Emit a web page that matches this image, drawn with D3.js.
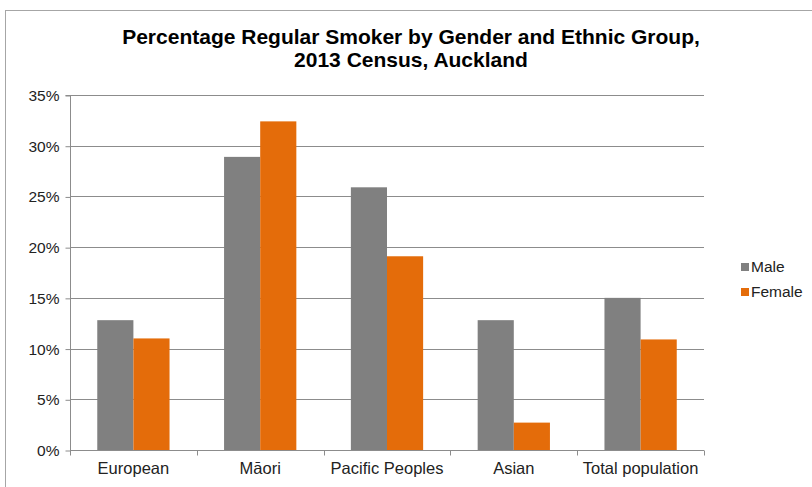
<!DOCTYPE html>
<html>
<head>
<meta charset="utf-8">
<script src="https://cdn.jsdelivr.net/npm/d3@7"></script>
<style>
  html, body { margin: 0; padding: 0; background: #fff; }
  svg { display: block; font-family: "Liberation Sans", Arial, sans-serif; }
</style>
</head>
<body>
<svg id="chart" width="812" height="487"></svg>
<script>
const categories = ["European", "Māori", "Pacific Peoples", "Asian", "Total population"];
const seriesNames = ["Male", "Female"];
const maleValues = [12.8, 28.9, 25.9, 12.8, 15.0];
const femaleValues = [11.0, 32.4, 19.1, 2.7, 10.9];
const yTicks = [0, 5, 10, 15, 20, 25, 30, 35];
const titleLines = ["Percentage Regular Smoker by Gender and Ethnic Group,", "2013 Census, Auckland"];
const colors = { Male: "#808080", Female: "#E46C0A" };

const svg = d3.select("#chart");
const W = 812, H = 487;
const margin = { left: 70, right: 108, top: 95, bottom: 37 };
const plotL = margin.left, plotR = W - margin.right, plotT = margin.top, plotB = H - margin.bottom;

// outer border (right and bottom edges fall outside the picture)
svg.append("rect").attr("x", 5.5).attr("y", 10.5).attr("width", W).attr("height", H)
  .attr("fill", "none").attr("stroke", "#a6a6a6").attr("stroke-width", 1);

// title
svg.append("g").selectAll("text").data(titleLines).join("text")
  .attr("x", 411).attr("y", (d, i) => 44 + i * 23)
  .attr("text-anchor", "middle").attr("font-weight", "bold").attr("font-size", "21px")
  .attr("fill", "#000").text(d => d);

const y = d3.scaleLinear().domain([0, 35]).range([plotB, plotT]);
const x0 = d3.scaleBand().domain(categories).range([plotL, plotR]).padding(0);
const bw = x0.bandwidth();
const groupW = bw * 0.57;
const x1 = d3.scaleBand().domain(seriesNames).range([(bw - groupW) / 2, (bw + groupW) / 2]).padding(0);

// gridlines
svg.append("g").selectAll("line").data(yTicks.filter(t => t > 0)).join("line")
  .attr("x1", plotL).attr("x2", plotR)
  .attr("y1", d => Math.round(y(d)) + 0.5).attr("y2", d => Math.round(y(d)) + 0.5)
  .attr("stroke", "#8c8c8c").attr("stroke-width", 1);

// bars
const rows = categories.map((c, i) => ({ cat: c, vals: [
  { s: "Male", v: maleValues[i] }, { s: "Female", v: femaleValues[i] }] }));
const groups = svg.append("g").selectAll("g").data(rows).join("g")
  .attr("transform", d => `translate(${x0(d.cat)},0)`);
groups.selectAll("rect").data(d => d.vals).join("rect")
  .attr("x", d => x1(d.s)).attr("width", x1.bandwidth())
  .attr("y", d => y(d.v)).attr("height", d => y(0) - y(d.v))
  .attr("fill", d => colors[d.s]);

// y axis
const yAxis = d3.axisLeft(y).tickValues(yTicks).tickFormat(d => d + "%").tickSize(5).tickPadding(6);
const gy = svg.append("g").attr("transform", `translate(${plotL + 0.5},0.5)`).call(yAxis);
gy.select(".domain").attr("stroke", "#8c8c8c").attr("d", `M-5,${Math.round(plotT)}H0V${Math.round(plotB)}`);
gy.selectAll(".tick line").attr("stroke", "#8c8c8c");
gy.selectAll(".tick text").attr("font-size", "15.5px").attr("fill", "#222")
  .attr("font-family", "Liberation Sans, Arial, sans-serif");

// x axis
const xAxis = d3.axisBottom(x0).tickSize(0).tickPadding(12);
const gx = svg.append("g").attr("transform", `translate(0,${Math.round(plotB) + 0.5})`).call(xAxis);
gx.select(".domain").attr("stroke", "#8c8c8c").attr("d", `M${plotL},0H${plotR}`);
gx.selectAll(".tick text").attr("font-size", "16.5px").attr("fill", "#222")
  .attr("font-family", "Liberation Sans, Arial, sans-serif");
// category boundary ticks
const boundaries = categories.map(c => x0(c)).concat([plotR]);
gx.append("g").selectAll("line").data(boundaries).join("line")
  .attr("x1", d => Math.round(d) + 0.5).attr("x2", d => Math.round(d) + 0.5)
  .attr("y1", 0).attr("y2", 5).attr("stroke", "#8c8c8c");

// legend
const legend = svg.append("g").attr("transform", "translate(741,267)");
const li = legend.selectAll("g").data(seriesNames).join("g")
  .attr("transform", (d, i) => `translate(0,${i * 25})`);
li.append("rect").attr("x", 0).attr("y", -4).attr("width", 8).attr("height", 8)
  .attr("fill", d => colors[d]);
li.append("text").attr("x", 10).attr("y", 0).attr("dy", "0.35em")
  .attr("font-size", "15.5px").attr("fill", "#222").text(d => d);
</script>
</body>
</html>
